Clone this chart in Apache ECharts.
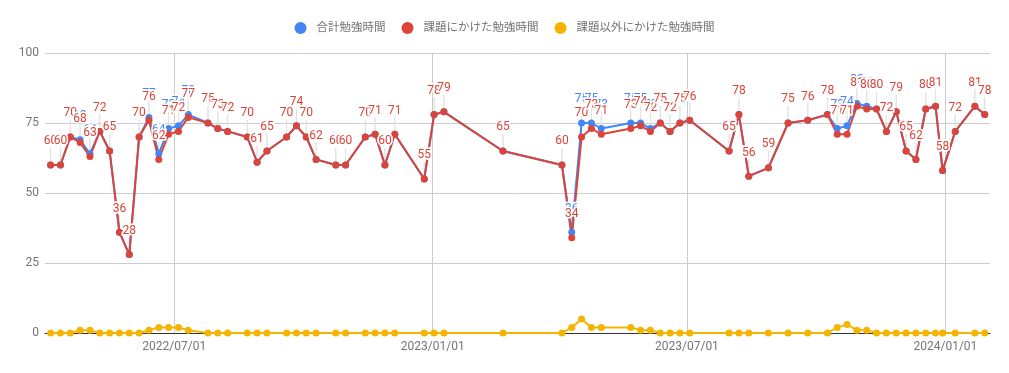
<!DOCTYPE html>
<html><head><meta charset="utf-8">
<script src="https://cdn.jsdelivr.net/npm/echarts@6/dist/echarts.min.js"></script>
<style>html,body{margin:0;padding:0;background:#fff}#c{width:1009px;height:373px}</style>
</head><body><div id="c"></div>
<script>
const dates = [
  '2022-04-04','2022-04-11','2022-04-18','2022-04-25','2022-05-02','2022-05-09','2022-05-16','2022-05-23','2022-05-30','2022-06-06',
  '2022-06-13','2022-06-20','2022-06-27','2022-07-04','2022-07-11','2022-07-25','2022-08-01','2022-08-08','2022-08-22','2022-08-29',
  '2022-09-05','2022-09-19','2022-09-26','2022-10-03','2022-10-10','2022-10-24','2022-10-31','2022-11-14','2022-11-21','2022-11-28',
  '2022-12-05','2022-12-26','2023-01-02','2023-01-09','2023-02-20','2023-04-03','2023-04-10','2023-04-17','2023-04-24','2023-05-01',
  '2023-05-22','2023-05-29','2023-06-05','2023-06-12','2023-06-19','2023-06-26','2023-07-03','2023-07-31','2023-08-07','2023-08-14',
  '2023-08-28','2023-09-11','2023-09-25','2023-10-09','2023-10-16','2023-10-23','2023-10-30','2023-11-06','2023-11-13','2023-11-20',
  '2023-11-27','2023-12-04','2023-12-11','2023-12-18','2023-12-25','2023-12-30','2024-01-08','2024-01-22','2024-01-29'
];
const totalHours = [
  60,60,70,69,64,72,65,36,28,70,
  77,64,73,74,78,75,73,72,70,61,
  65,70,74,70,62,60,60,70,71,60,
  71,55,78,79,65,60,36,75,75,73,
  75,75,73,75,72,75,76,65,78,56,
  59,75,76,78,73,74,82,81,80,72,
  79,65,62,80,81,58,72,81,78
];
const taskHours = [
  60,60,70,68,63,72,65,36,28,70,
  76,62,71,72,77,75,73,72,70,61,
  65,70,74,70,62,60,60,70,71,60,
  71,55,78,79,65,60,34,70,73,71,
  73,74,72,75,72,75,76,65,78,56,
  59,75,76,78,71,71,81,80,80,72,
  79,65,62,80,81,58,72,81,78
];
const otherHours = [
  0,0,0,1,1,0,0,0,0,0,
  1,2,2,2,1,0,0,0,0,0,
  0,0,0,0,0,0,0,0,0,0,
  0,0,0,0,0,0,2,5,2,2,
  2,1,1,0,0,0,0,0,0,0,
  0,0,0,0,2,3,1,1,0,0,
  0,0,0,0,0,0,0,0,0
];
const seriesNames = ['合計勉強時間', '課題にかけた勉強時間', '課題以外にかけた勉強時間'];
const seriesColors = ['#4285f4', '#db4437', '#f4b400'];
const tickDates = ['2022-07-01', '2023-01-01', '2023-07-01', '2024-01-01'];
const tickLabels = ['2022/07/01', '2023/01/01', '2023/07/01', '2024/01/01'];
const xMin = '2022-03-31T00:00:00';
const xMax = '2024-02-01T18:00:00';

const FONT = 'Roboto, "Noto Sans CJK JP", sans-serif';
const ts = s => +echarts.time.parse(s);
const chart = echarts.init(document.getElementById('c'), null, {renderer: 'canvas'});
const pair = arr => dates.map((d, i) => [ts(d), arr[i]]);
const tickTs = tickDates.map(ts);

function stemSeries(arr) {
  return {
    type: 'custom', silent: true, z: 1,
    renderItem: (params, api) => {
      const p = api.coord([api.value(0), api.value(1)]);
      return {type: 'line', shape: {x1: p[0], y1: p[1] - 4, x2: p[0], y2: p[1] - 17},
              style: {stroke: '#e2e2e2', lineWidth: 1}};
    },
    data: pair(arr)
  };
}
function lineSeries(idx, arr, withLabel) {
  return {
    name: seriesNames[idx], type: 'line', z: 3,
    data: pair(arr),
    symbol: 'circle', symbolSize: 7, showSymbol: true,
    itemStyle: {color: seriesColors[idx], borderWidth: 0},
    lineStyle: {color: seriesColors[idx], width: 2},
    label: {show: withLabel, position: 'top', distance: 14, color: seriesColors[idx],
            textBorderColor: '#ffffff', textBorderWidth: 3,
            fontFamily: FONT, fontSize: 12, formatter: p => p.value[1]},
    emphasis: {disabled: true}
  };
}

chart.setOption({
  animation: false,
  textStyle: {fontFamily: FONT},
  color: seriesColors,
  legend: {
    top: 17, left: 'center', icon: 'circle', itemWidth: 12, itemHeight: 12, itemGap: 16,
    data: seriesNames,
    textStyle: {color: '#757575', fontSize: 11.5, fontFamily: FONT, padding: [0, 0, 0, 5]}
  },
  grid: {left: 45, right: 19, top: 53, bottom: 40, containLabel: false},
  xAxis: {
    type: 'value', min: ts(xMin), max: ts(xMax),
    axisLine: {show: true, onZero: false, lineStyle: {color: '#333', width: 1}},
    axisTick: {show: false, customValues: tickTs},
    splitLine: {show: true, lineStyle: {color: '#cccccc', width: 1}},
    axisLabel: {customValues: tickTs, color: '#757575', fontSize: 12, fontFamily: FONT, margin: 8,
                formatter: v => { const i = tickTs.indexOf(+v); return i >= 0 ? tickLabels[i] : ''; }}
  },
  yAxis: {
    type: 'value', min: 0, max: 100, interval: 25,
    axisLine: {show: false}, axisTick: {show: false},
    splitLine: {lineStyle: {color: '#cccccc', width: 1}},
    axisLabel: {color: '#757575', fontSize: 12, fontFamily: FONT, margin: 6}
  },
  series: [
    stemSeries(totalHours),
    stemSeries(taskHours),
    lineSeries(0, totalHours, true),
    lineSeries(1, taskHours, true),
    lineSeries(2, otherHours, false)
  ]
});
</script></body></html>
